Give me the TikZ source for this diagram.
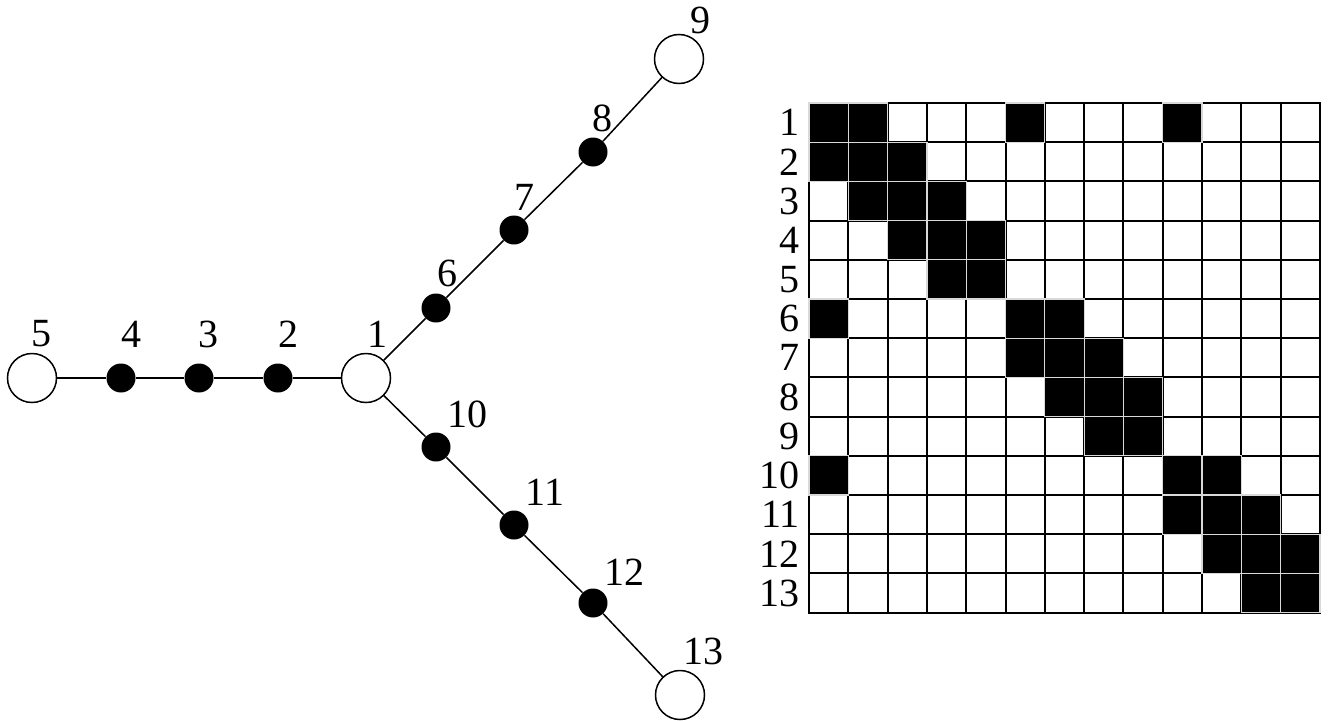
\documentclass[tikz,border=0pt]{standalone}
\usepackage{fontspec}
\setmainfont{Liberation Serif}
\begin{document}
\begin{tikzpicture}[x=1pt,y=-1pt,
  bignode/.style={circle,draw=black,line width=1.5pt,fill=white,minimum size=49pt,inner sep=0pt},
  smallnode/.style={circle,fill=black,minimum size=29pt,inner sep=0pt},
  lbl/.style={font=\fontsize{40}{40}\selectfont,inner sep=0pt},
  edgeline/.style={line width=1.5pt},
  whitecell/.style={draw=black,line width=2pt,fill=white},
  blackcell/.style={draw=black!15,line width=1.2pt,fill=black}]
\useasboundingbox (0,0) rectangle (1330,720);

% vertices
\node[bignode] (n1) at (366,378) {};
\node[smallnode] (n2) at (278,378) {};
\node[smallnode] (n3) at (199,378) {};
\node[smallnode] (n4) at (121,378) {};
\node[bignode] (n5) at (32,378) {};
\node[smallnode] (n6) at (436,308) {};
\node[smallnode] (n7) at (514,230) {};
\node[smallnode] (n8) at (593,152) {};
\node[bignode] (n9) at (679,59) {};
\node[smallnode] (n10) at (436,447) {};
\node[smallnode] (n11) at (514,525) {};
\node[smallnode] (n12) at (593,603) {};
\node[bignode] (n13) at (680,695) {};

% edges
\draw[edgeline] (n5) -- (n4) -- (n3) -- (n2) -- (n1);
\draw[edgeline] (n1) -- (n6) -- (n7) -- (n8) -- (n9);
\draw[edgeline] (n1) -- (n10) -- (n11) -- (n12) -- (n13);

% vertex labels
\node[lbl] (l1) at (377,334) {1};
\node[lbl] (l2) at (288,334) {2};
\node[lbl] (l3) at (208,334) {3};
\node[lbl] (l4) at (131,334) {4};
\node[lbl] (l5) at (41,334) {5};
\node[lbl] (l6) at (447,273) {6};
\node[lbl] (l7) at (524,197) {7};
\node[lbl] (l8) at (602,118) {8};
\node[lbl] (l9) at (700,20) {9};
\node[lbl] (l10) at (467,414) {10};
\node[lbl] (l11) at (545,492) {11};
\node[lbl] (l12) at (624,572) {12};
\node[lbl] (l13) at (703,651) {13};

% matrix
\def\gx{809}\def\gy{103}\def\cw{39.3}\def\ch{39.2}
\foreach \r in {1,...,13}{
  \foreach \c in {1,...,13}{
    \draw[whitecell] ({\gx+(\c-1)*\cw},{\gy+(\r-1)*\ch}) rectangle ++(\cw,\ch);
  }
  \node[lbl,anchor=east] (row\r) at (800,{\gy+(\r-0.5)*\ch}) {\r};
}
\foreach \r/\c in {1/1,1/2,1/6,1/10,2/1,2/2,2/3,3/2,3/3,3/4,4/3,4/4,4/5,5/4,5/5,
  6/1,6/6,6/7,7/6,7/7,7/8,8/7,8/8,8/9,9/8,9/9,10/1,10/10,10/11,11/10,11/11,11/12,
  12/11,12/12,12/13,13/12,13/13}{
  \draw[blackcell] ({\gx+(\c-1)*\cw},{\gy+(\r-1)*\ch}) rectangle ++(\cw,\ch);
}
\end{tikzpicture}
\end{document}
